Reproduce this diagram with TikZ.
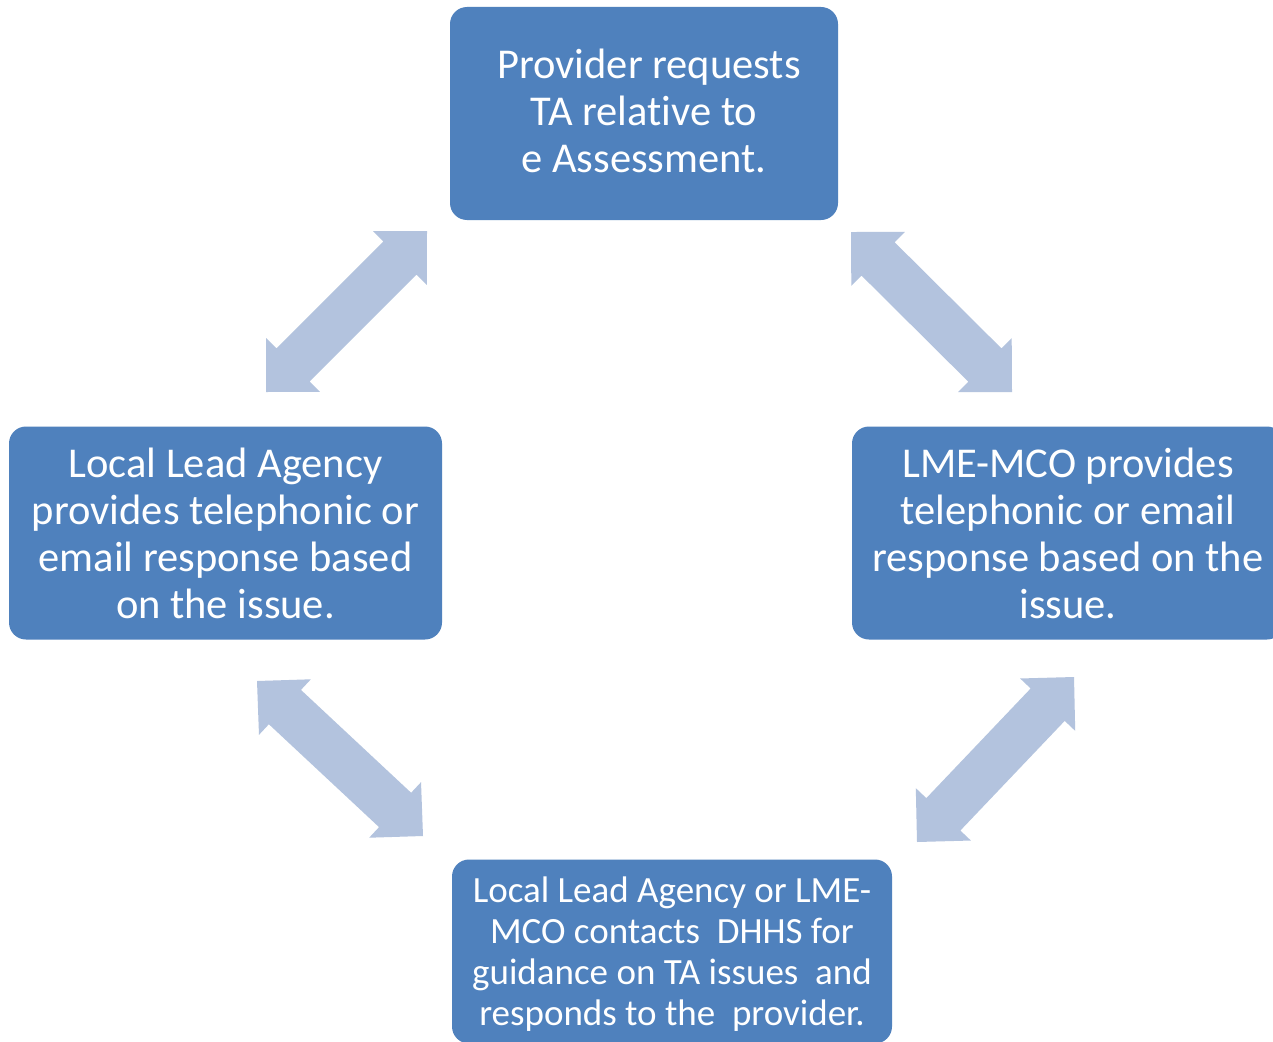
\documentclass[tikz,border=0pt]{standalone}
\usepackage{fontspec}
\setmainfont[Ligatures=NoCommon, RawFeature={-calt;-liga;-dlig}]{Carlito}
\usetikzlibrary{calc}
\definecolor{boxblue}{HTML}{4F81BD}
\definecolor{arrowblue}{HTML}{B3C3DE}
\tikzset{
  stepbox/.style={rectangle, rounded corners=17pt, fill=boxblue, text=white,
    align=center, inner sep=0pt, font=\fontsize{42.5}{47}\selectfont},
  smallbox/.style={stepbox, font=\fontsize{37}{41}\selectfont},
  arrowfill/.style={fill=arrowblue}
}
\newcommand\blkarrow[2]{%
  \coordinate (#1h) at ($(#1)!38.2pt!(#2)$);
  \coordinate (#2h) at ($(#2)!38.2pt!(#1)$);
  \fill[arrowfill] (#1)
    -- ($(#1h)!38pt!90:(#2)$)
    -- ($(#1h)!23.5pt!90:(#2)$)
    -- ($(#2h)!23.5pt!-90:(#1)$)
    -- ($(#2h)!38pt!-90:(#1)$)
    -- (#2)
    -- ($(#2h)!38pt!90:(#1)$)
    -- ($(#2h)!23.5pt!90:(#1)$)
    -- ($(#1h)!23.5pt!-90:(#2)$)
    -- ($(#1h)!38pt!-90:(#2)$)
    -- cycle;
}
\begin{document}
\begin{tikzpicture}[x=1pt,y=-1pt]
\clip (0,0) rectangle (1273,1041);
\fill[white] (0,0) rectangle (1273,1041);

\node[stepbox, minimum width=388pt, minimum height=213pt] (top) at (644,113.5) {};
\node[stepbox, anchor=center] (toptext) at (644,111)
  {\hspace*{10pt}Provider requests\\TA relat\kern0pt ive to\\e Assessment.};
\node[stepbox, minimum width=433pt, minimum height=213pt] (left) at (225.5,533)
  {Local Lead Agency\\provides telephon\kern0pt ic or\\email response based\\on the issue.};
\node[stepbox, minimum width=432pt, minimum height=213pt] (right) at (1068,533)
  {LME-MCO provides\\telephon\kern0pt ic or email\\response based on the\\issue.};
\node[smallbox, minimum width=440pt, minimum height=184pt] (bottom) at (672,951.5) {};
\node[smallbox, fill=none] (bottomtext) at (672,954)
  {Local Lead Agency or LME-\\MCO contacts\ \ DHHS for\\guidance on TA issues\ \ and\\responds to the\ \ provider.};

\coordinate (tla) at (266,392);
\coordinate (tlb) at (427,231);
\coordinate (tra) at (851,232);
\coordinate (trb) at (1012,392);
\coordinate (bla) at (257,681);
\coordinate (blb) at (423,836);
\coordinate (bra) at (1074,677);
\coordinate (brb) at (917,842);

\blkarrow{tla}{tlb}
\blkarrow{tra}{trb}
\blkarrow{bla}{blb}
\blkarrow{bra}{brb}
\end{tikzpicture}
\end{document}
